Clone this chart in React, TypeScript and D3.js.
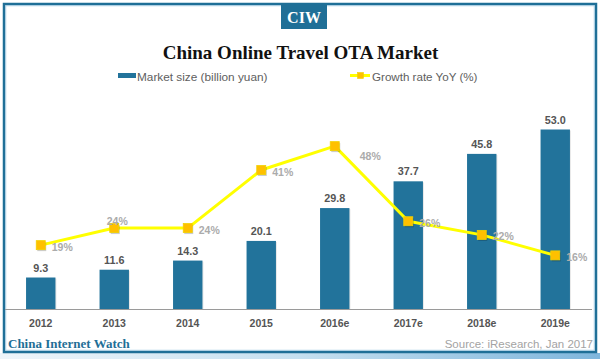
import React from "react";
import * as d3 from "d3";

const categories = ["2012", "2013", "2014", "2015", "2016e", "2017e", "2018e", "2019e"];
const marketSize = [9.3, 11.6, 14.3, 20.1, 29.8, 37.7, 45.8, 53.0];
const growthRate = [19, 24, 24, 41, 48, 26, 22, 16];
const labelPlacement = ["right", "above", "right", "right", "farRight", "right", "right", "right"];

const W = 600;
const H = 359;
const BLUE = "#1f6f97";
const BAR = "#22739b";
const YELLOW = "#ffff00";
const MARKER = "#ffc000";

export default function App() {
  const x = d3.scaleBand<string>().domain(categories).range([4, 592]).paddingInner(0.6).paddingOuter(0.3);
  const yBar = d3.scaleLinear().domain([0, 53]).range([309, 129.5]);
  const yLine = d3.scaleLinear().domain([0, 50]).range([310, 139.3]);
  const cx = (c: string) => (x(c) as number) + x.bandwidth() / 2;
  const pts = categories.map((c, i) => [cx(c), yLine(growthRate[i])] as [number, number]);
  const linePath = d3.line()(pts) || "";
  const sans = "'Liberation Sans', Arial, Helvetica, sans-serif";
  const serif = "'Liberation Serif', 'Times New Roman', serif";

  const labelPos = (i: number) => {
    const [px, py] = pts[i];
    const p = labelPlacement[i];
    if (p === "above") return { x: px + 3, y: py - 3, anchor: "middle" };
    if (p === "farRight") return { x: px + 25, y: py + 14, anchor: "start" };
    return { x: px + 11, y: py + 5.5, anchor: "start" };
  };

  return (
    <svg width={W} height={H} style={{ position: "absolute", left: 0, top: 0, background: "#fff" }}>
      <defs>
        <linearGradient id="strip" x1="0" x2="1" y1="0" y2="0">
          <stop offset="0" stopColor="#eef5fa" />
          <stop offset="0.5" stopColor="#c6e0f0" />
          <stop offset="1" stopColor="#7fb6dc" />
        </linearGradient>
      </defs>
      <rect x={0} y={353} width={W} height={6} fill="url(#strip)" />
      <rect x={4} y={4} width={592} height={348} fill="#fff" stroke={BLUE} strokeWidth={2.5} />
      <rect x={5.8} y={5.8} width={588.4} height={344.4} fill="none" stroke="#9cc6df" strokeWidth={0.8} />

      {/* CIW badge */}
      <rect x={281} y={3} width={46} height={26} fill={BLUE} />
      <text x={304} y={23.3} textAnchor="middle" fill="#fff" fontFamily={serif} fontWeight="bold" fontSize={16}>CIW</text>

      {/* Title */}
      <text x={300.5} y={59} textAnchor="middle" fill="#111" fontFamily={serif} fontWeight="bold" fontSize={19}>
        China Online Travel OTA Market
      </text>

      {/* Legend */}
      <rect x={118} y={73} width={18} height={5} fill={BAR} />
      <text x={137} y={81.3} fill="#5e5e5e" fontFamily={sans} fontSize={11.8}>Market size (billion yuan)</text>
      <line x1={350} x2={370} y1={75.5} y2={75.5} stroke={YELLOW} strokeWidth={3} />
      <rect x={357.5} y={72.5} width={6} height={6} fill={MARKER} stroke="#f0d000" strokeWidth={0.6} />
      <text x={372} y={81.3} fill="#5e5e5e" fontFamily={sans} fontSize={11.6}>Growth rate YoY (%)</text>

      {/* Bars */}
      {categories.map((c, i) => (
        <g key={c}>
          <rect x={(x(c) as number) + 1} y={yBar(marketSize[i]) + 1} width={x.bandwidth()} height={309 - yBar(marketSize[i])} fill="#d8d8d8" opacity={0.6} />
          <rect x={x(c)} y={yBar(marketSize[i])} width={x.bandwidth()} height={309 - yBar(marketSize[i])} fill={BAR} />
          <text x={cx(c)} y={yBar(marketSize[i]) - 6} textAnchor="middle" fill="#555" fontFamily={sans} fontWeight="bold" fontSize={10.8}>
            {marketSize[i].toFixed(1)}
          </text>
          <text x={cx(c)} y={327} textAnchor="middle" fill="#555" fontFamily={sans} fontWeight="bold" fontSize={10.5}>
            {c}
          </text>
        </g>
      ))}

      {/* Axis */}
      <line x1={5} x2={592} y1={309.5} y2={309.5} stroke="#9a9a9a" strokeWidth={1} />

      {/* Growth line */}
      <path d={linePath} fill="none" stroke={YELLOW} strokeWidth={3} strokeLinejoin="round" />
      {pts.map(([px, py], i) => (
        <g key={"m" + i}>
          <rect x={px - 4.5 + 1} y={py - 4.5 + 1.5} width={9} height={9} fill="#000" opacity={0.2} />
          <rect x={px - 4.5} y={py - 4.5} width={9} height={9} fill={MARKER} stroke="#f2d200" strokeWidth={0.8} />
        </g>
      ))}
      {growthRate.map((g, i) => {
        const lp = labelPos(i);
        return (
          <text key={"l" + i} x={lp.x} y={lp.y} textAnchor={lp.anchor as any} fill="#ababab" fontFamily={sans} fontWeight="bold" fontSize={10.5}>
            {g}%
          </text>
        );
      })}

      {/* Footer */}
      <text x={8} y={348} fill={BLUE} fontFamily={serif} fontWeight="bold" fontSize={13}>China Internet Watch</text>
      <text x={593} y={348} textAnchor="end" fill="#a3a3a3" fontFamily={sans} fontSize={11.5}>Source: iResearch, Jan 2017</text>
    </svg>
  );
}
